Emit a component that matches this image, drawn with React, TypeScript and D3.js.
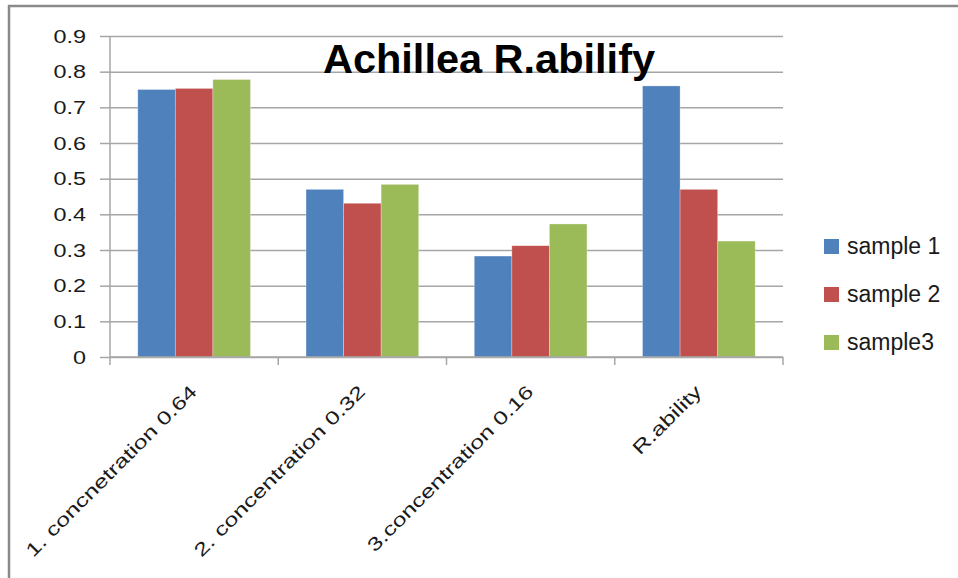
import React, { useRef, useEffect } from 'react';
import * as d3 from 'd3';

// chart values
const categories = ['1. concnetration 0.64', '2. concentration 0.32', '3.concentration 0.16', 'R.ability'];
const seriesNames = ['sample 1', 'sample 2', 'sample3'];
const sample1 = [0.75, 0.47, 0.283, 0.76];
const sample2 = [0.753, 0.431, 0.312, 0.47];
const sample3 = [0.778, 0.484, 0.373, 0.325];
const yTicks = [0, 0.1, 0.2, 0.3, 0.4, 0.5, 0.6, 0.7, 0.8, 0.9];
const colors = ['#4F81BD', '#C0504D', '#9BBB59'];

export default function App() {
  const svgRef = useRef<SVGSVGElement>(null);

  useEffect(() => {
    document.body.style.margin = '0';
    if (!svgRef.current) return;
    const width = 958;
    const height = 578;
    const margin = { top: 36, right: 175, bottom: 221, left: 110 };
    const font = '"Liberation Sans", Arial, sans-serif';

    const svg = d3.select(svgRef.current);
    svg.selectAll('*').remove();
    svg.attr('width', width).attr('height', height).attr('viewBox', `0 0 ${width} ${height}`);

    svg.append('rect').attr('width', width).attr('height', height).attr('fill', '#fff');

    // frame (only top and left edges are visible in the crop)
    svg.append('path')
      .attr('d', `M9,${height} V6 H${width}`)
      .attr('fill', 'none')
      .attr('stroke', '#8a8a8a')
      .attr('stroke-width', 2.5);

    const x0 = d3.scaleBand<string>()
      .domain(categories)
      .range([margin.left, width - margin.right])
      .paddingInner(0)
      .paddingOuter(0);

    const x1 = d3.scaleBand<string>()
      .domain(seriesNames)
      .range([0, x0.bandwidth()])
      .paddingInner(0)
      .paddingOuter(0.74);

    const y = d3.scaleLinear()
      .domain([0, 0.9])
      .range([height - margin.bottom, margin.top]);

    const series = [sample1, sample2, sample3];

    // gridlines + y axis
    svg.append('g')
      .attr('transform', `translate(${margin.left},0)`)
      .call(d3.axisLeft(y).tickValues(yTicks).tickSize(10).tickFormat(d => String(+d)))
      .call(g => g.select('.domain').remove())
      .call(g => g.selectAll('.tick line').attr('stroke', '#a6a6a6').attr('stroke-width', 1.5))
      .call(g => g.selectAll('.tick text').remove())
      .call(g => g.selectAll('.tick').append('line')
        .attr('x1', 0)
        .attr('x2', width - margin.right - margin.left)
        .attr('stroke', '#a6a6a6')
        .attr('stroke-width', 1.5));

    // y tick labels (wide Calibri-like look)
    svg.append('g')
      .selectAll('text')
      .data(yTicks)
      .enter()
      .append('text')
      .attr('transform', d => `translate(86,${y(d) + 6.5}) scale(1.3,1)`)
      .attr('text-anchor', 'end')
      .attr('font-family', font)
      .attr('font-size', 18)
      .attr('fill', '#1a1a1a')
      .text(d => String(d));

    // bars
    svg.append('g')
      .selectAll('g')
      .data(categories)
      .enter()
      .append('g')
      .attr('transform', d => `translate(${x0(d)},0)`)
      .selectAll('rect')
      .data((d, i) => series.map((s, k) => ({ key: seriesNames[k], value: s[i], color: colors[k] })))
      .enter()
      .append('rect')
      .attr('x', d => x1(d.key) || 0)
      .attr('y', d => y(d.value))
      .attr('width', x1.bandwidth())
      .attr('height', d => y(0) - y(d.value))
      .attr('fill', d => d.color)
      .attr('stroke', 'rgba(255,255,255,0.35)')
      .attr('stroke-width', 0.8);

    // y axis line
    svg.append('line')
      .attr('x1', margin.left).attr('x2', margin.left)
      .attr('y1', margin.top).attr('y2', y(0))
      .attr('stroke', '#a6a6a6').attr('stroke-width', 1.5);

    // x axis
    const boundaries = categories.map(c => x0(c) || 0).concat([width - margin.right]);
    svg.append('line')
      .attr('x1', margin.left).attr('x2', width - margin.right)
      .attr('y1', y(0)).attr('y2', y(0))
      .attr('stroke', '#a6a6a6').attr('stroke-width', 1.5);
    svg.append('g')
      .selectAll('line')
      .data(boundaries)
      .enter()
      .append('line')
      .attr('x1', d => d).attr('x2', d => d)
      .attr('y1', y(0)).attr('y2', y(0) + 8)
      .attr('stroke', '#a6a6a6').attr('stroke-width', 1.5);

    // rotated category labels
    svg.append('g')
      .selectAll('text')
      .data(categories)
      .enter()
      .append('text')
      .attr('transform', d => `translate(${(x0(d) || 0) + x0.bandwidth() / 2 + 4},${y(0) + 36}) rotate(-45) scale(1.35,1)`)
      .attr('text-anchor', 'end')
      .attr('font-family', font)
      .attr('font-size', 18.5)
      .attr('fill', '#1a1a1a')
      .text(d => d);

    // title
    svg.append('text')
      .attr('x', 489)
      .attr('y', 73)
      .attr('text-anchor', 'middle')
      .attr('font-family', font)
      .attr('font-weight', 'bold')
      .attr('font-size', 41.5)
      .attr('fill', '#000')
      .text('Achillea R.abilify');

    // legend
    const legend = svg.append('g')
      .selectAll('g')
      .data(seriesNames)
      .enter()
      .append('g')
      .attr('transform', (d, i) => `translate(824,${239 + i * 48})`);
    legend.append('rect')
      .attr('width', 15)
      .attr('height', 15)
      .attr('fill', (d, i) => colors[i]);
    legend.append('text')
      .attr('x', 23)
      .attr('y', 15)
      .attr('font-family', font)
      .attr('font-size', 23)
      .attr('fill', '#1a1a1a')
      .text(d => d);
  }, []);

  return <svg ref={svgRef} style={{ display: 'block' }} />;
}
